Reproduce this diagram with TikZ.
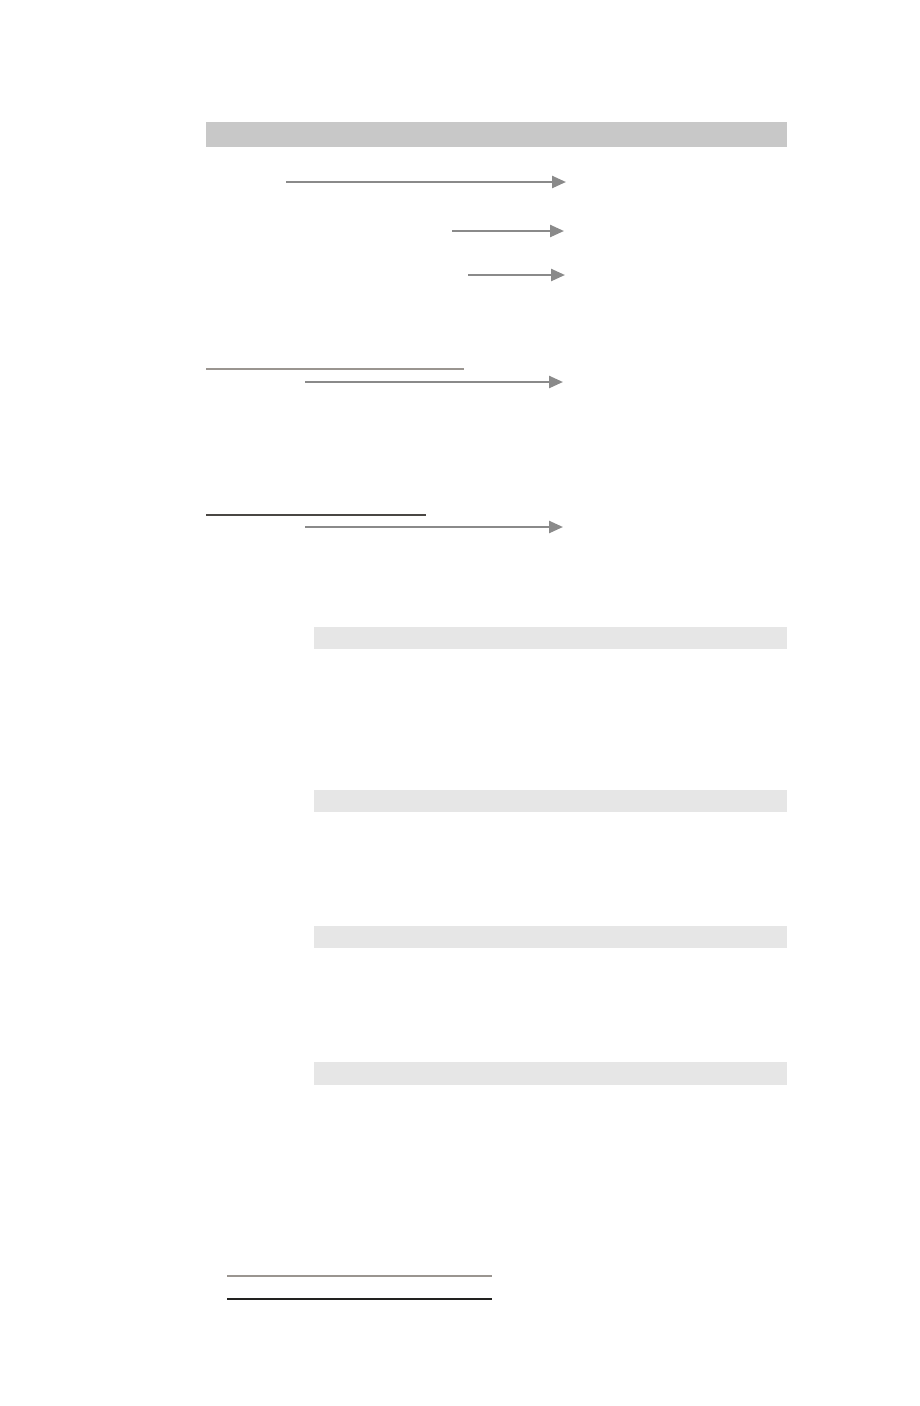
\documentclass[tikz,border=0pt]{standalone}
\usetikzlibrary{arrows.meta}
\definecolor{headbar}{HTML}{C8C8C8}
\definecolor{subbar}{HTML}{E6E6E6}
\definecolor{arrowgray}{HTML}{8A8A8A}
\definecolor{rulegray}{HTML}{9A9590}
\definecolor{ruledark}{HTML}{4A4744}
\definecolor{ruleblack}{HTML}{222220}
\tikzset{
  flowarrow/.style={draw=arrowgray, line width=2.4pt, -{Triangle[length=14pt,width=12pt]}},
  rulelight/.style={draw=rulegray, line width=1.8pt},
  ruledk/.style={draw=ruledark, line width=1.5pt},
  ruleblk/.style={draw=ruleblack, line width=1.5pt}
}
\begin{document}
\begin{tikzpicture}[x=1pt,y=-1pt]
\useasboundingbox (0,0) rectangle (920,1406);
% header bar
\fill[headbar] (206,122) rectangle (787,147);
% arrows
\coordinate (a1s) at (286,182); \coordinate (a1e) at (566,182);
\coordinate (a2s) at (452,231); \coordinate (a2e) at (564,231);
\coordinate (a3s) at (468,275); \coordinate (a3e) at (565,275);
\coordinate (a4s) at (305,382); \coordinate (a4e) at (563,382);
\coordinate (a5s) at (305,527); \coordinate (a5e) at (563,527);
\draw[flowarrow] (a1s) -- (a1e);
\draw[flowarrow] (a2s) -- (a2e);
\draw[flowarrow] (a3s) -- (a3e);
\draw[flowarrow] (a4s) -- (a4e);
\draw[flowarrow] (a5s) -- (a5e);
% rules
\coordinate (r1s) at (206,369); \coordinate (r1e) at (464,369);
\coordinate (r2s) at (206,515); \coordinate (r2e) at (426,515);
\draw[rulelight] (r1s) -- (r1e);
\draw[ruledk] (r2s) -- (r2e);
% sub bars
\fill[subbar] (314,627) rectangle (787,649);
\fill[subbar] (314,790) rectangle (787,812);
\fill[subbar] (314,926) rectangle (787,948);
\fill[subbar] (314,1062) rectangle (787,1085);
% bottom rules
\coordinate (b1s) at (227,1276); \coordinate (b1e) at (492,1276);
\coordinate (b2s) at (227,1299); \coordinate (b2e) at (492,1299);
\draw[rulelight] (b1s) -- (b1e);
\draw[ruleblk] (b2s) -- (b2e);
\end{tikzpicture}
\end{document}
